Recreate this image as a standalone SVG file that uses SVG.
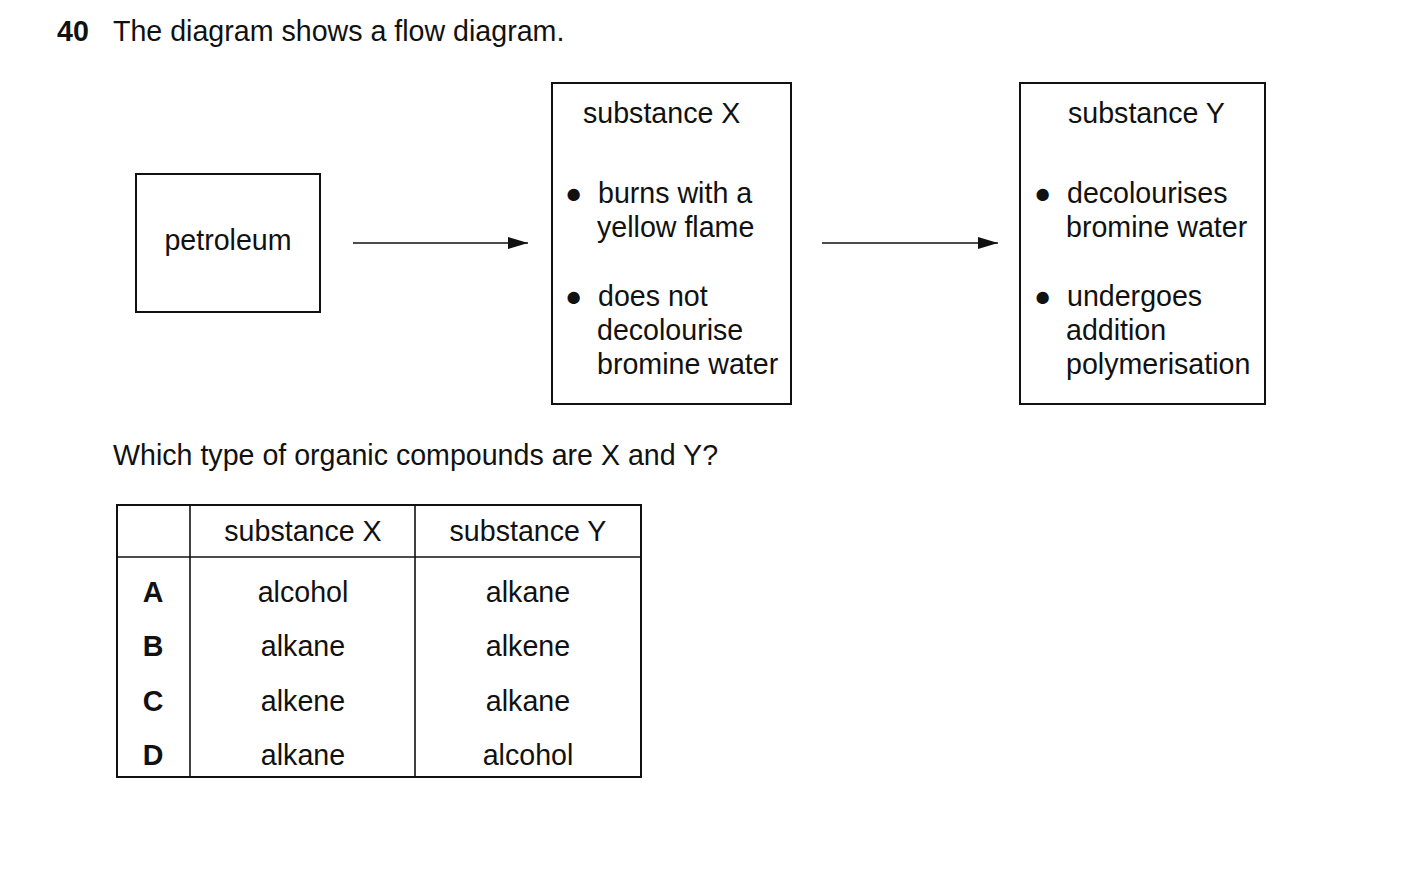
<svg xmlns="http://www.w3.org/2000/svg" width="1403" height="870" viewBox="0 0 1403 870">
<style>
text{font-family:"Liberation Sans",Arial,sans-serif;font-size:28.6px;fill:#111}
.b{font-weight:bold}
.m{text-anchor:middle}
.box{fill:none;stroke:#111;stroke-width:2}
.ln{stroke:#111;stroke-width:1.6}
</style>
<defs><marker id="ah" markerWidth="20" markerHeight="12" refX="20" refY="6" orient="auto" markerUnits="userSpaceOnUse"><path d="M0,0 L20,6 L0,12 Z" fill="#111"/></marker></defs>
<rect width="1403" height="870" fill="#fff"/>
<text x="57" y="41" class="b">40</text>
<text x="113" y="41">The diagram shows a flow diagram.</text>
<g id="petroleum"><rect class="box" x="136" y="174" width="184" height="138"/><text x="228" y="250" class="m">petroleum</text></g>
<g id="substanceX"><rect class="box" x="552" y="83" width="239" height="321"/>
<text x="583" y="123">substance X</text>
<text x="565" y="203">●</text><text x="598" y="203">burns with a</text><text x="597" y="237">yellow flame</text>
<text x="565" y="306">●</text><text x="598" y="306">does not</text><text x="597" y="340">decolourise</text><text x="597" y="374">bromine water</text></g>
<g id="substanceY"><rect class="box" x="1020" y="83" width="245" height="321"/>
<text x="1068" y="123">substance Y</text>
<text x="1034" y="203">●</text><text x="1067" y="203">decolourises</text><text x="1066" y="237">bromine water</text>
<text x="1034" y="306">●</text><text x="1067" y="306">undergoes</text><text x="1066" y="340">addition</text><text x="1066" y="374">polymerisation</text></g>
<g id="connectors"><line class="ln" x1="353" y1="243" x2="528" y2="243" marker-end="url(#ah)"/><line class="ln" x1="822" y1="243" x2="998" y2="243" marker-end="url(#ah)"/></g>
<text x="113" y="465">Which type of organic compounds are X and Y?</text>
<g id="table"><rect class="box" x="117" y="505" width="524" height="272" stroke-width="1.6"/>
<line class="ln" x1="190" y1="505" x2="190" y2="777"/><line class="ln" x1="415" y1="505" x2="415" y2="777"/><line class="ln" x1="117" y1="557" x2="641" y2="557"/>
<text x="303" y="541" class="m">substance X</text><text x="528" y="541" class="m">substance Y</text>
<text x="153" y="602" class="m b">A</text><text x="303" y="602" class="m">alcohol</text><text x="528" y="602" class="m">alkane</text>
<text x="153" y="656" class="m b">B</text><text x="303" y="656" class="m">alkane</text><text x="528" y="656" class="m">alkene</text>
<text x="153" y="711" class="m b">C</text><text x="303" y="711" class="m">alkene</text><text x="528" y="711" class="m">alkane</text>
<text x="153" y="765" class="m b">D</text><text x="303" y="765" class="m">alkane</text><text x="528" y="765" class="m">alcohol</text></g>
</svg>
